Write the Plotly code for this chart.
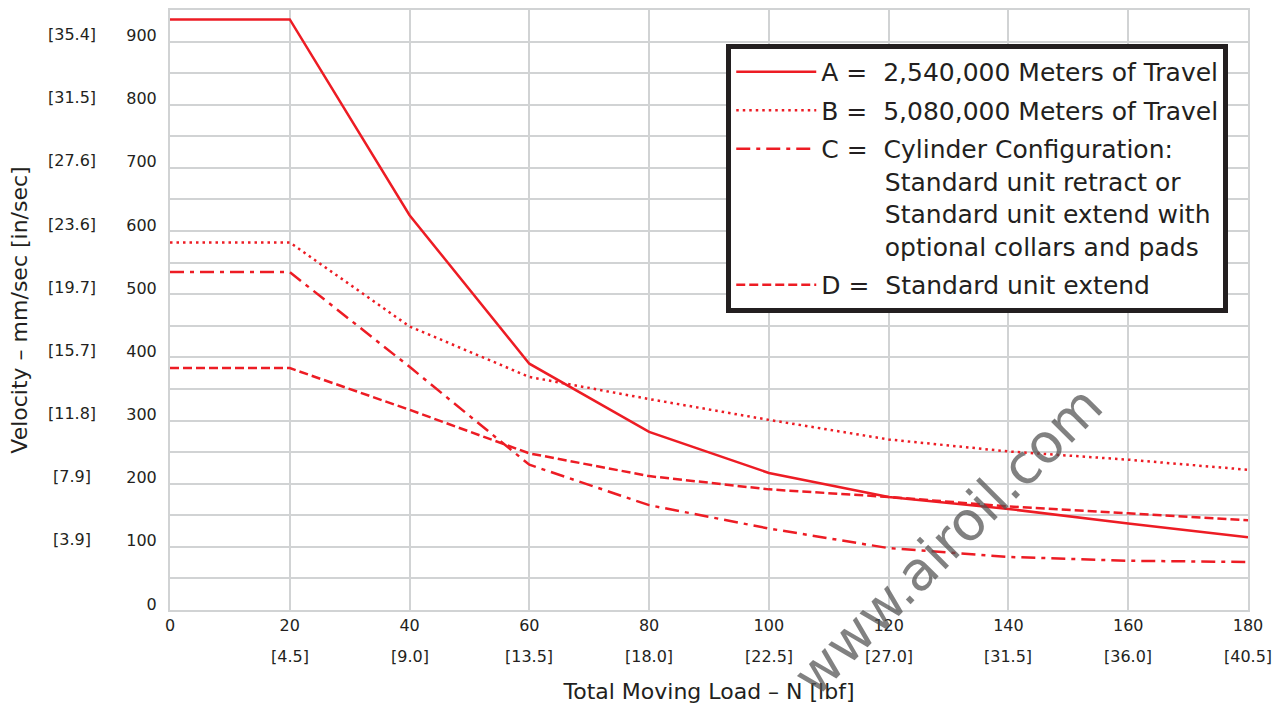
import plotly.graph_objects as go

# ---------------- data ----------------
load_n = [0, 20, 40, 60, 80, 100, 120, 140, 160, 180]
vel_a = [935, 935, 625, 390, 282, 217, 179, 160, 137, 115]
vel_b = [582, 582, 449, 369, 334, 301, 270, 251, 238, 222]
vel_c = [535, 535, 385, 230, 166, 129, 98, 84, 78, 76]
vel_d = [383, 383, 317, 248, 212, 191, 179, 164, 153, 142]

names = [
    "A =  2,540,000 Meters of Travel",
    "B =  5,080,000 Meters of Travel",
    "C =  Cylinder Configuration:",
    "D =  Standard unit extend",
]
c_extra_lines = ["Standard unit retract or", "Standard unit extend with", "optional collars and pads"]

x_ticks = [0, 20, 40, 60, 80, 100, 120, 140, 160, 180]
x_ticks_lbf = ["", "[4.5]", "[9.0]", "[13.5]", "[18.0]", "[22.5]", "[27.0]", "[31.5]", "[36.0]", "[40.5]"]
y_ticks = [0, 100, 200, 300, 400, 500, 600, 700, 800, 900]
y_ticks_in = ["", "[3.9]", "[7.9]", "[11.8]", "[15.7]", "[19.7]", "[23.6]", "[27.6]", "[31.5]", "[35.4]"]

# ---------------- style ----------------
RED = "#ed1c24"
TXT = "#231f20"
GRID = "#d1d3d4"
FONT = "DejaVu Sans"

fig = go.Figure()

pad = "&nbsp;" * 8
c_name = names[2] + "".join("<br>" + pad + s for s in c_extra_lines)

series = [
    (vel_a, names[0], "solid"),
    (vel_b, names[1], "2.5px,4px"),
    (vel_c, c_name, "14px,6px,4px,6px"),
    (vel_d, names[3], "9px,4px"),
]
for i, (vals, nm, dash) in enumerate(series):
    fig.add_trace(go.Scatter(
        x=load_n, y=vals, mode="lines", name=nm, legendgroup=f"g{i}",
        line=dict(color=RED, width=2.5, dash=dash),
        hoverinfo="skip",
    ))

annotations = []
for xv, lab in zip(x_ticks, x_ticks_lbf):
    if lab:
        annotations.append(dict(
            x=xv, xref="x", y=-0.078, yref="paper", text=lab, showarrow=False,
            xanchor="center", yanchor="middle", font=dict(family=FONT, size=16, color=TXT),
        ))
for yv, lab in zip(y_ticks, y_ticks_in):
    if lab:
        annotations.append(dict(
            x=-0.091, xref="paper", y=yv, yref="y", yshift=7, text=lab, showarrow=False,
            xanchor="center", yanchor="middle", font=dict(family=FONT, size=16, color=TXT),
        ))

# watermark
annotations.append(dict(
    x=0.7217, xref="paper", y=0.1163, yref="paper", text="www.airoil.com",
    showarrow=False, textangle=-45, xanchor="center", yanchor="middle",
    font=dict(family=FONT, size=54, color="rgba(80,80,80,0.72)"),
))

fig.update_layout(
    width=1278, height=713,
    margin=dict(l=170, r=30, t=8, b=103),
    paper_bgcolor="white", plot_bgcolor="white",
    font=dict(family=FONT, color=TXT),
    showlegend=True,
    legend=dict(
        x=0.516, y=0.9435, xanchor="left", yanchor="top",
        bgcolor="white", bordercolor=TXT, borderwidth=5,
        font=dict(family=FONT, size=25, color=TXT),
        valign="top", itemwidth=80, tracegroupgap=3,
    ),
    annotations=annotations,
)

fig.update_xaxes(
    range=[0, 180], tickvals=x_ticks, ticktext=[str(v) for v in x_ticks],
    showgrid=True, gridcolor=GRID, gridwidth=2,
    showline=True, linecolor=GRID, linewidth=2, mirror=True, zeroline=False,
    ticks="", tickfont=dict(family=FONT, size=16, color=TXT),
    title=dict(text="Total Moving Load – N [lbf]", font=dict(family=FONT, size=22, color=TXT), standoff=49),
)
fig.update_yaxes(
    range=[0, 950], tickvals=y_ticks, ticktext=[str(v) for v in y_ticks],
    showgrid=True, gridcolor=GRID, gridwidth=2,
    minor=dict(dtick=50, tick0=0, showgrid=True, gridcolor=GRID, gridwidth=2),
    showline=True, linecolor=GRID, linewidth=2, mirror=True, zeroline=False,
    ticks="", tickfont=dict(family=FONT, size=16, color=TXT),
    ticklabelstandoff=8, ticklabelshift=-6,
    title=dict(text="Velocity – mm/sec [in/sec]", font=dict(family=FONT, size=22, color=TXT), standoff=93),
)

fig.write_html("out.html", config={"displayModeBar": False},
               post_script="document.body.style.margin='0px';")
